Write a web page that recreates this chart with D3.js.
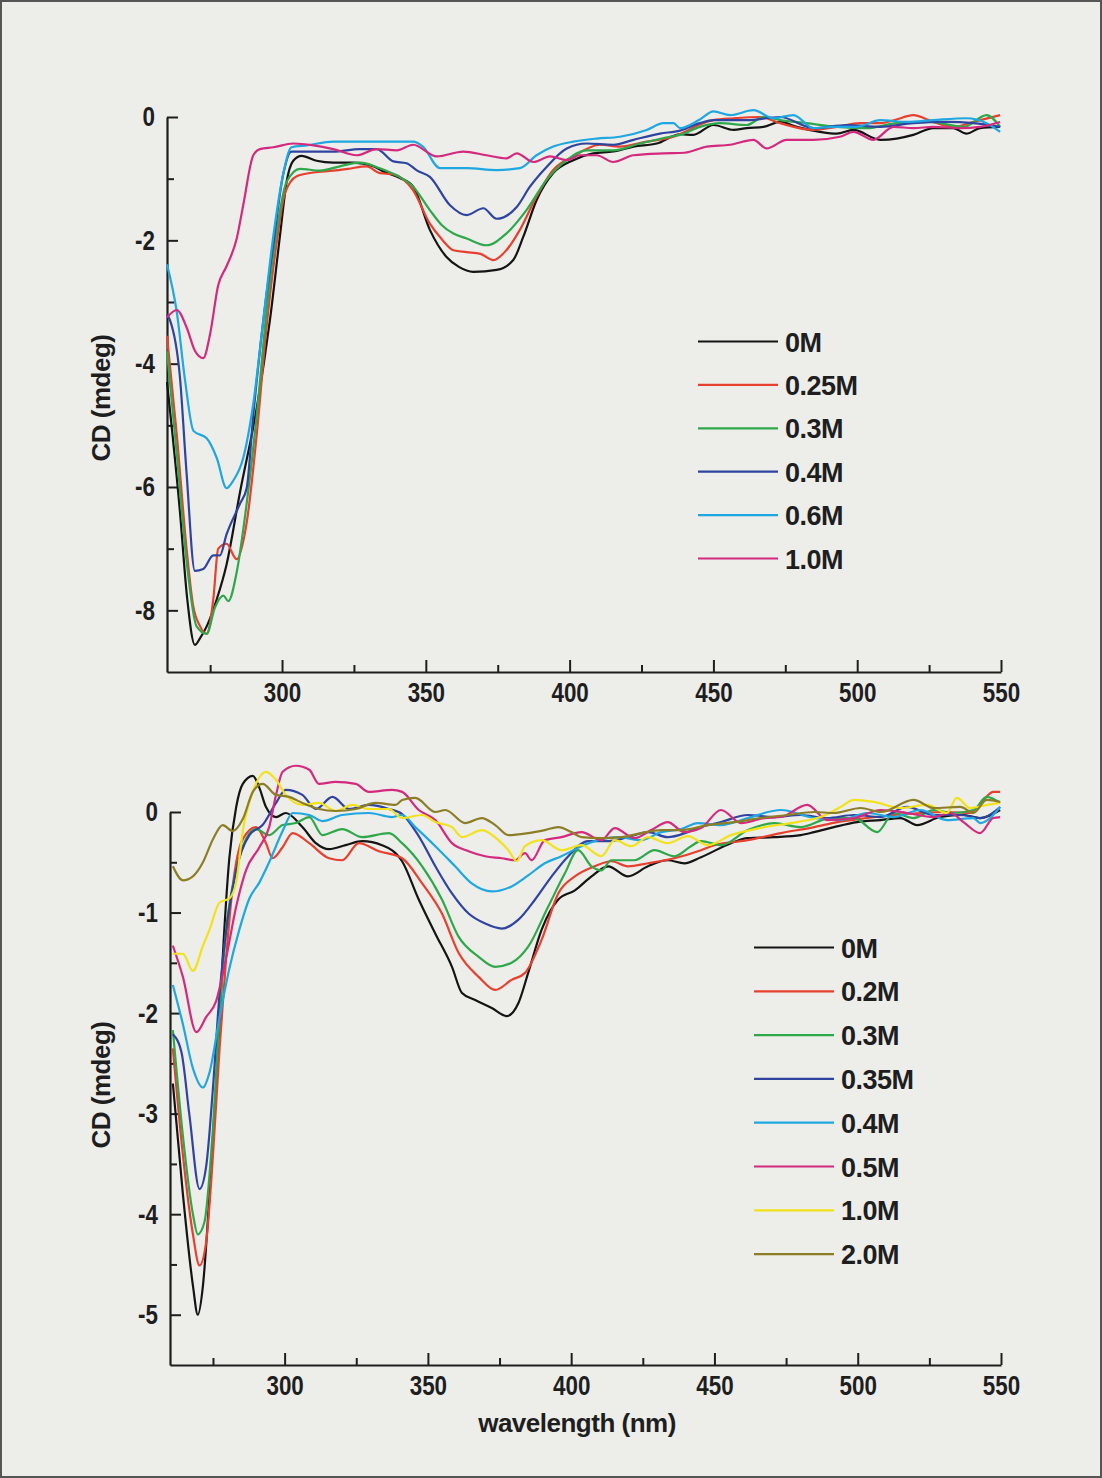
<!DOCTYPE html>
<html>
<head>
<meta charset="utf-8">
<script src="https://cdn.jsdelivr.net/npm/d3@7/dist/d3.min.js"></script>
<style>
  html, body { margin: 0; padding: 0; background: #ededea; }
  #chart { width: 1102px; height: 1478px; }
</style>
</head>
<body>
<div id="chart"></div>
<script>
// ---- data: wavelength (nm), CD (mdeg) ----

// top panel
const topLabels = ["0M", "0.25M", "0.3M", "0.4M", "0.6M", "1.0M"];
const top0M = [[260,-4.3],[264.5,-6.4],[267,-7.8],[269.7,-8.56],[271.5,-8.45],[273.8,-8.26],[277.3,-7.82],[280.7,-7.26],[285.4,-6.08],[291.2,-4.72],[295.8,-3.29],[299.3,-1.92],[301.6,-1.05],[303.9,-0.71],[306.8,-0.63],[312,-0.71],[317.8,-0.74],[324.8,-0.74],[331.7,-0.8],[336,-0.9],[341,-0.99],[345.6,-1.13],[351.4,-1.83],[357.2,-2.27],[361.5,-2.43],[366.5,-2.51],[374.6,-2.48],[380.4,-2.32],[383.9,-1.94],[388.5,-1.35],[394.3,-0.91],[401.3,-0.7],[408.2,-0.59],[415.2,-0.56],[422.2,-0.48],[430.3,-0.43],[438.4,-0.28],[443,-0.29],[450,-0.13],[457,-0.21],[461.6,-0.18],[467.4,-0.16],[473.2,-0.08],[479,-0.16],[487,-0.24],[492.9,-0.27],[498.7,-0.21],[508,-0.37],[513.7,-0.35],[519.5,-0.29],[526.5,-0.18],[533.4,-0.18],[538,-0.27],[542.7,-0.18],[549.7,-0.16]];
const top025M = [[260,-3.55],[263.4,-5.15],[266.8,-7.0],[269,-7.9],[271.5,-8.26],[273.8,-8.38],[276.1,-7.82],[277.8,-7.0],[280.7,-6.92],[284.2,-7.17],[287.7,-6.58],[291.2,-5.15],[294.6,-3.41],[298.1,-2.05],[301,-1.24],[305.1,-0.96],[310.9,-0.9],[317.8,-0.87],[323,-0.84],[329.4,-0.8],[334,-0.91],[338.7,-0.93],[345.6,-1.19],[351.4,-1.73],[355.5,-1.98],[359.6,-2.16],[364.2,-2.19],[369,-2.22],[373.5,-2.32],[378,-2.16],[382.7,-1.83],[388.5,-1.29],[394.3,-0.86],[401.3,-0.64],[410.5,-0.45],[417.5,-0.48],[426.8,-0.4],[436.1,-0.32],[441,-0.22],[445.3,-0.12],[450,-0.05],[457,-0.02],[466.2,0.0],[473.2,-0.1],[484.8,-0.21],[492.9,-0.16],[501,-0.1],[508,-0.1],[513,-0.05],[519.5,0.03],[526.5,-0.08],[533.4,-0.16],[540.4,-0.08],[549.7,0.03]];
const top03M = [[260,-3.8],[263.4,-5.46],[266.8,-7.2],[270.3,-8.26],[273.8,-8.38],[276.7,-7.95],[279.6,-7.76],[281.3,-7.85],[284.2,-7.39],[287.7,-6.27],[291.2,-4.84],[294.6,-3.16],[298.1,-1.86],[301.6,-1.05],[306.3,-0.84],[313.2,-0.87],[320.1,-0.8],[327.1,-0.74],[334,-0.83],[340,-0.95],[345.6,-1.13],[351.4,-1.51],[355.5,-1.75],[359.6,-1.89],[364.2,-1.97],[371.1,-2.08],[378,-1.89],[385,-1.51],[392,-1.02],[399,-0.7],[405.9,-0.54],[415.2,-0.54],[424.5,-0.43],[434.9,-0.32],[438.4,-0.29],[445.3,-0.16],[452.3,-0.1],[461.6,-0.13],[467.4,0.0],[473.2,-0.05],[482.4,-0.1],[492.9,-0.16],[503.3,-0.18],[513.7,-0.1],[525.3,-0.08],[536.9,-0.16],[545,0.03],[549.7,-0.16]];
const top04M = [[260,-3.2],[261,-3.29],[264.5,-4.22],[266.8,-5.77],[269.7,-7.36],[272.6,-7.33],[276.1,-7.11],[278.4,-7.11],[280.7,-6.77],[285.4,-6.27],[287.7,-6.02],[290,-4.84],[293.5,-3.29],[297,-2.05],[300.4,-0.93],[303.3,-0.56],[308.6,-0.56],[317.8,-0.56],[327.1,-0.52],[332.9,-0.52],[338.7,-0.72],[343.3,-0.75],[347,-0.87],[351.4,-0.97],[358.4,-1.43],[364.2,-1.59],[370,-1.48],[374.6,-1.65],[381.6,-1.46],[386.2,-1.13],[392,-0.81],[399,-0.51],[405.9,-0.43],[415.2,-0.45],[422.2,-0.37],[431.4,-0.27],[438.4,-0.22],[445.3,-0.1],[450,-0.05],[461.6,-0.05],[473.2,0.0],[484.8,-0.18],[496.4,-0.13],[508,-0.16],[519.5,-0.1],[531.1,-0.08],[540.4,-0.1],[549.7,-0.16]];
const top06M = [[260,-2.39],[263.4,-3.16],[266.3,-4.28],[269.2,-5.09],[273.8,-5.21],[277.3,-5.53],[280.7,-6.02],[283,-5.9],[286.5,-5.53],[290,-4.65],[293.5,-3.29],[297,-1.92],[300.4,-0.93],[303.3,-0.49],[308.6,-0.46],[317.8,-0.4],[329.4,-0.4],[341,-0.4],[345.6,-0.4],[349,-0.48],[354.9,-0.83],[364.2,-0.83],[374.6,-0.86],[382.7,-0.83],[388.5,-0.62],[394.3,-0.48],[401.3,-0.4],[409.4,-0.35],[417.5,-0.32],[426.8,-0.21],[432.6,-0.1],[436.1,-0.1],[438.4,-0.18],[445.3,-0.04],[450,0.09],[455.8,0.03],[463.9,0.11],[470.9,-0.02],[477.8,0.03],[484.8,-0.18],[491.7,-0.16],[499.8,-0.16],[508,-0.05],[517.2,-0.08],[526.5,-0.05],[538,-0.02],[545,-0.1],[549.7,-0.24]];
const top10M = [[260,-3.25],[263.4,-3.13],[266.8,-3.41],[269.7,-3.79],[272.6,-3.91],[274.9,-3.54],[277.8,-2.73],[280.7,-2.42],[284.2,-1.98],[286.5,-1.43],[290,-0.62],[292.3,-0.52],[297,-0.49],[303.9,-0.43],[310.9,-0.46],[317.8,-0.52],[325.9,-0.62],[332.9,-0.52],[339.9,-0.54],[345.6,-0.45],[353.8,-0.64],[363,-0.56],[371.1,-0.62],[378,-0.67],[381.6,-0.59],[387.4,-0.73],[393.2,-0.64],[399,-0.7],[403.6,-0.62],[409.4,-0.62],[415.2,-0.73],[422.2,-0.62],[432.6,-0.59],[440,-0.58],[447.7,-0.48],[455.8,-0.45],[463.9,-0.37],[468.5,-0.51],[475.5,-0.37],[484.8,-0.37],[494,-0.32],[498.7,-0.24],[505.6,-0.37],[512.6,-0.16],[519.5,-0.18],[526.5,-0.16],[535.8,-0.18],[542.7,-0.16],[549.7,-0.08]];

// bottom panel
const bottomLabels = ["0M", "0.2M", "0.3M", "0.35M", "0.4M", "0.5M", "1.0M", "2.0M"];
const bot0M = [[261,-2.7],[264.5,-3.8],[268,-4.71],[269.7,-5.0],[271.5,-4.71],[273.8,-3.8],[276.7,-2.43],[278.4,-1.45],[280.7,-0.46],[283.1,0.05],[285.4,0.28],[288.9,0.36],[291.2,0.24],[293.5,0.05],[297,-0.05],[300.4,-0.01],[306.2,-0.15],[310.9,-0.31],[315.5,-0.37],[321.3,-0.33],[327.1,-0.29],[334,-0.33],[341,-0.49],[346.8,-0.87],[352.6,-1.21],[358.4,-1.54],[361.9,-1.8],[366.5,-1.87],[372.3,-1.95],[377.5,-2.03],[381.6,-1.9],[385,-1.6],[389.7,-1.17],[395.5,-0.87],[401.3,-0.78],[407.1,-0.64],[412.9,-0.54],[419.8,-0.64],[426.8,-0.54],[433.7,-0.48],[439.5,-0.51],[445.3,-0.45],[455.8,-0.31],[461.6,-0.26],[470.9,-0.25],[480.1,-0.23],[484.8,-0.2],[491.7,-0.15],[499.8,-0.1],[508,-0.08],[514.9,-0.06],[520.7,-0.13],[528.8,-0.05],[537,-0.03],[542.7,-0.06],[549.7,0.02]];
const bot02M = [[261,-2.35],[264.5,-3.41],[268,-4.2],[270.3,-4.51],[272.6,-4.28],[275,-3.41],[277.3,-2.35],[279.6,-1.45],[281.9,-0.74],[285.4,-0.27],[290,-0.15],[293.5,-0.31],[295.8,-0.46],[299.3,-0.35],[302.8,-0.21],[308.6,-0.31],[315.5,-0.46],[320.1,-0.48],[325.9,-0.31],[332.9,-0.39],[341,-0.46],[348,-0.71],[354.9,-1.01],[360.7,-1.4],[367.7,-1.64],[373.5,-1.77],[379.2,-1.67],[383.9,-1.6],[389.7,-1.27],[395.5,-0.81],[401.3,-0.64],[408.2,-0.54],[414,-0.49],[419.8,-0.54],[426.8,-0.51],[436,-0.46],[445.3,-0.38],[450,-0.33],[461.6,-0.28],[473.2,-0.21],[484.8,-0.15],[492.9,-0.1],[503.3,-0.06],[512.6,-0.03],[521.9,-0.01],[531.1,0.0],[539.2,-0.01],[543.9,0.12],[547.3,0.2],[549.7,0.2]];
const bot03M = [[261,-2.17],[264.5,-3.22],[268,-4.0],[269.7,-4.2],[272,-4.08],[275,-3.14],[277.3,-2.04],[279.6,-1.17],[283.1,-0.58],[286.5,-0.27],[290,-0.17],[294.6,-0.23],[299.3,-0.13],[303.9,-0.11],[308.6,-0.05],[313.2,-0.23],[320.1,-0.17],[327.1,-0.25],[336.4,-0.21],[341,-0.31],[348,-0.54],[354.9,-0.87],[360.7,-1.24],[367.7,-1.44],[373.5,-1.54],[379.2,-1.5],[385,-1.34],[392,-0.94],[397.8,-0.61],[402.4,-0.38],[407.1,-0.54],[410.5,-0.58],[414,-0.48],[422.1,-0.48],[429.1,-0.38],[436,-0.44],[441.8,-0.34],[445.3,-0.29],[452.3,-0.33],[461.6,-0.18],[470.9,-0.11],[480.1,-0.15],[490.6,-0.06],[498.7,-0.06],[506.8,-0.2],[512.6,-0.01],[519.5,-0.06],[526.5,0.02],[533.4,-0.01],[540.4,0.02],[545,0.15],[549.7,0.09]];
const bot035M = [[261,-2.21],[264,-2.39],[266.8,-3.02],[270.3,-3.75],[272.6,-3.53],[275,-2.74],[277.3,-1.8],[280.2,-1.05],[283.1,-0.58],[287.7,-0.23],[292.3,-0.13],[297,0.09],[300.4,0.22],[306.2,0.17],[310.9,0.03],[316.7,0.15],[322.5,0.03],[329.4,0.07],[336.4,0.03],[341,-0.02],[346.8,-0.24],[352.6,-0.54],[358.4,-0.81],[364.2,-1.01],[370,-1.11],[375.8,-1.16],[381.6,-1.07],[387.4,-0.87],[393.2,-0.64],[399,-0.44],[405.9,-0.29],[412.9,-0.29],[419.8,-0.25],[426.8,-0.2],[433.7,-0.25],[440.7,-0.2],[445.3,-0.15],[452.3,-0.1],[461.6,-0.03],[470.9,-0.05],[480.1,-0.03],[489.4,-0.06],[498.7,-0.03],[508,-0.05],[517.2,0.05],[526.5,-0.03],[535.8,-0.03],[542.7,-0.06],[549.7,0.05]];
const bot04M = [[261,-1.72],[264.5,-2.11],[268,-2.55],[271.5,-2.74],[273.8,-2.59],[277.3,-2.04],[280.7,-1.56],[284.2,-1.17],[287.7,-0.86],[291.2,-0.7],[294.6,-0.5],[299.3,-0.19],[302.8,-0.01],[308.6,-0.03],[313.2,-0.09],[320.1,-0.03],[329.4,-0.01],[337.5,-0.05],[341,-0.03],[345.6,-0.15],[352.6,-0.34],[359.5,-0.54],[365.3,-0.71],[372.3,-0.79],[379.2,-0.74],[385,-0.63],[390.8,-0.51],[396.6,-0.44],[403.6,-0.34],[409.4,-0.28],[416.3,-0.25],[424.4,-0.28],[431.4,-0.2],[438.4,-0.17],[444.2,-0.11],[452.3,-0.13],[461.6,-0.06],[473.2,0.02],[484.8,-0.06],[494,-0.08],[503.3,-0.01],[512.6,-0.05],[521.9,0.02],[531.1,-0.08],[540.4,-0.06],[542.7,-0.11],[549.7,0.05]];
const bot05M = [[261,-1.33],[264.5,-1.64],[269.2,-2.19],[272.6,-2.04],[276.1,-1.88],[279.6,-1.45],[283.1,-0.94],[286.5,-0.58],[291.2,-0.35],[294.6,-0.15],[297,0.17],[299.3,0.4],[303.9,0.46],[308.6,0.42],[312,0.28],[317.8,0.3],[324.8,0.28],[329.4,0.2],[337.5,0.22],[341,0.2],[346.8,0.02],[352.6,-0.08],[358.4,-0.31],[364.2,-0.39],[370,-0.44],[375.8,-0.46],[380.4,-0.48],[383.9,-0.41],[386.2,-0.48],[390.8,-0.28],[396.6,-0.25],[403.6,-0.2],[410.5,-0.28],[415.2,-0.16],[422.1,-0.26],[427.9,-0.18],[433.7,-0.1],[439.5,-0.2],[445.3,-0.16],[452.3,0.02],[459.3,-0.11],[467.4,-0.06],[473.2,-0.05],[482.4,0.07],[489.4,-0.08],[498.7,-0.06],[508,0.02],[517.2,-0.01],[526.5,-0.05],[532.3,-0.01],[536.9,-0.1],[542.7,-0.21],[547.3,-0.06],[549.7,-0.05]];
const bot10M = [[261,-1.41],[264.5,-1.41],[268,-1.58],[271.5,-1.33],[273.8,-1.17],[277.3,-0.9],[280.7,-0.86],[283.1,-0.7],[285.4,-0.19],[288.9,0.2],[293.5,0.4],[297,0.32],[300.4,0.17],[306.2,0.07],[312,0.09],[317.8,0.01],[323.6,0.07],[329.4,0.03],[336.4,0.03],[341,-0.06],[348,-0.03],[352.6,-0.1],[358.4,-0.15],[361.9,-0.25],[368.8,-0.18],[374.6,-0.28],[378.1,-0.38],[381,-0.49],[383.9,-0.34],[389.7,-0.28],[396.6,-0.38],[403.6,-0.33],[410.5,-0.44],[415.2,-0.28],[421,-0.34],[426.8,-0.25],[433.7,-0.31],[440.7,-0.24],[447.7,-0.33],[455.8,-0.23],[467.4,-0.15],[478.9,-0.1],[487,-0.05],[494,0.05],[498.7,0.12],[505.6,0.1],[514.9,0.04],[524.2,0.07],[531.1,-0.01],[534.6,0.14],[539.2,0.04],[545,0.07],[549.7,0.09]];
const bot20M = [[261,-0.54],[264.5,-0.68],[268,-0.64],[271.5,-0.5],[275,-0.27],[278.4,-0.13],[281.9,-0.19],[285.4,-0.07],[288.9,0.2],[292.3,0.28],[297,0.17],[301.6,0.15],[306.2,0.09],[312,0.03],[317.8,0.01],[324.8,0.03],[331.7,0.09],[338.7,0.07],[341,0.12],[345.6,0.14],[352.6,0.0],[356.1,0.02],[363,-0.11],[368.8,-0.06],[373.5,-0.13],[378.1,-0.23],[385,-0.21],[390.8,-0.18],[395.5,-0.15],[400.1,-0.2],[403.6,-0.25],[410.5,-0.26],[417.5,-0.25],[424.4,-0.21],[431.4,-0.18],[438.4,-0.18],[447.7,-0.13],[456.9,-0.1],[466.2,-0.06],[475.5,-0.03],[484.8,0.0],[491.7,-0.01],[501,0.04],[508,0.0],[519.5,0.12],[526.5,0.04],[535.8,0.05],[540.4,-0.01],[545,0.12],[549.7,0.1]];

// ticks
const xMajor = [300, 350, 400, 450, 500, 550];
const xMinor = [275, 325, 375, 425, 475, 525];
const topYMajor = [0, -2, -4, -6, -8];
const topYMinor = [-1, -3, -5, -7];
const botYMajor = [0, -1, -2, -3, -4, -5];
const botYMinor = [-0.5, -1.5, -2.5, -3.5, -4.5];

const topColors = ["#141414", "#e8402e", "#2ea84a", "#2f44a0", "#1ea7e1", "#d42a7e"];
const botColors = ["#141414", "#e8402e", "#2ea84a", "#2f44a0", "#1ea7e1", "#d42a7e", "#f2e21a", "#8c7e26"];

const W = 1102, H = 1478;
const textFont = "'Liberation Sans', Arial, sans-serif";
const narrow = 0.8; // tick labels are a condensed bold face

const svg = d3.select("#chart").append("svg")
  .attr("width", W)
  .attr("height", H)
  .style("background", "#ededea");

svg.append("rect")
  .attr("x", 1).attr("y", 1)
  .attr("width", W - 2).attr("height", H - 2)
  .attr("fill", "#ededea")
  .attr("stroke", "#555")
  .attr("stroke-width", 2);

function drawPanel(p) {
  const x = d3.scaleLinear().domain([260, 550]).range(p.xRange);
  const y = d3.scaleLinear().domain(p.yDomain).range(p.yRange);
  const g = svg.append("g");

  // minor ticks
  g.append("g")
    .attr("transform", `translate(0,${p.yRange[0]})`)
    .call(d3.axisBottom(x).tickValues(xMinor).tickSize(-7).tickSizeOuter(0).tickFormat(""))
    .call(s => s.select(".domain").remove());
  g.append("g")
    .attr("transform", `translate(${p.xRange[0]},0)`)
    .call(d3.axisLeft(y).tickValues(p.yMinor).tickSize(-7).tickSizeOuter(0).tickFormat(""))
    .call(s => s.select(".domain").remove());

  // major ticks + labels
  const xa = g.append("g")
    .attr("transform", `translate(0,${p.yRange[0]})`)
    .call(d3.axisBottom(x).tickValues(xMajor).tickSize(-12).tickSizeOuter(0).tickPadding(10).tickFormat(d => String(d)));
  const ya = g.append("g")
    .attr("transform", `translate(${p.xRange[0]},0)`)
    .call(d3.axisLeft(y).tickValues(p.yMajor).tickSize(-11).tickSizeOuter(0).tickPadding(12).tickFormat(d => String(d)));

  g.selectAll(".domain").attr("stroke", "#1e1e1e").attr("stroke-width", 2.2);
  g.selectAll(".tick line").attr("stroke", "#1e1e1e").attr("stroke-width", 2);
  g.selectAll(".tick text")
    .attr("fill", "#1e1e1e")
    .style("font-family", textFont)
    .style("font-weight", "bold")
    .style("font-size", "28px");
  // squeeze labels horizontally around their anchor
  ya.selectAll(".tick text").attr("x", -12 / narrow).attr("transform", `scale(${narrow},1)`);
  xa.selectAll(".tick text").attr("transform", `scale(${narrow},1)`);

  // curves
  const line = d3.line().x(d => x(d[0])).y(d => y(d[1])).curve(d3.curveMonotoneX);
  p.series.forEach((s, i) => {
    g.append("path")
      .datum(s)
      .attr("fill", "none")
      .attr("stroke", p.colors[i])
      .attr("stroke-width", 2.2)
      .attr("stroke-linejoin", "round")
      .attr("d", line);
  });

  // legend
  const lg = g.append("g");
  p.labels.forEach((lab, i) => {
    const ly = p.legend.y + i * p.legend.dy;
    lg.append("line")
      .attr("x1", p.legend.x).attr("x2", p.legend.x + 80)
      .attr("y1", ly).attr("y2", ly)
      .attr("stroke", p.colors[i])
      .attr("stroke-width", 2.2);
    lg.append("text")
      .attr("x", p.legend.x + 87)
      .attr("y", ly + 10)
      .text(lab)
      .attr("fill", "#1e1e1e")
      .style("font-family", textFont)
      .style("font-weight", "bold")
      .style("font-size", "27px")
      .style("letter-spacing", "-0.5px");
  });

  // y title
  g.append("text")
    .attr("transform", `translate(110,${p.yTitleY}) rotate(-90)`)
    .attr("text-anchor", "middle")
    .text("CD (mdeg)")
    .attr("fill", "#1e1e1e")
    .style("font-family", textFont)
    .style("font-weight", "bold")
    .style("font-size", "26px")
    .style("letter-spacing", "-0.5px");
}

drawPanel({
  xRange: [167, 1001],
  yDomain: [-9, 0],
  yRange: [672, 117],
  yMajor: topYMajor,
  yMinor: topYMinor,
  series: [top0M, top025M, top03M, top04M, top06M, top10M],
  labels: topLabels,
  colors: topColors,
  legend: { x: 698, y: 341.5, dy: 43.4 },
  yTitleY: 398
});

drawPanel({
  xRange: [170, 1001],
  yDomain: [-5.5, 0],
  yRange: [1365, 812],
  yMajor: botYMajor,
  yMinor: botYMinor,
  series: [bot0M, bot02M, bot03M, bot035M, bot04M, bot05M, bot10M, bot20M],
  labels: bottomLabels,
  colors: botColors,
  legend: { x: 754, y: 947.5, dy: 43.8 },
  yTitleY: 1085
});

svg.append("text")
  .attr("x", 577)
  .attr("y", 1432)
  .attr("text-anchor", "middle")
  .text("wavelength (nm)")
  .attr("fill", "#1e1e1e")
  .style("font-family", textFont)
  .style("font-weight", "bold")
  .style("font-size", "26px")
  .style("letter-spacing", "-0.5px");
</script>
</body>
</html>
